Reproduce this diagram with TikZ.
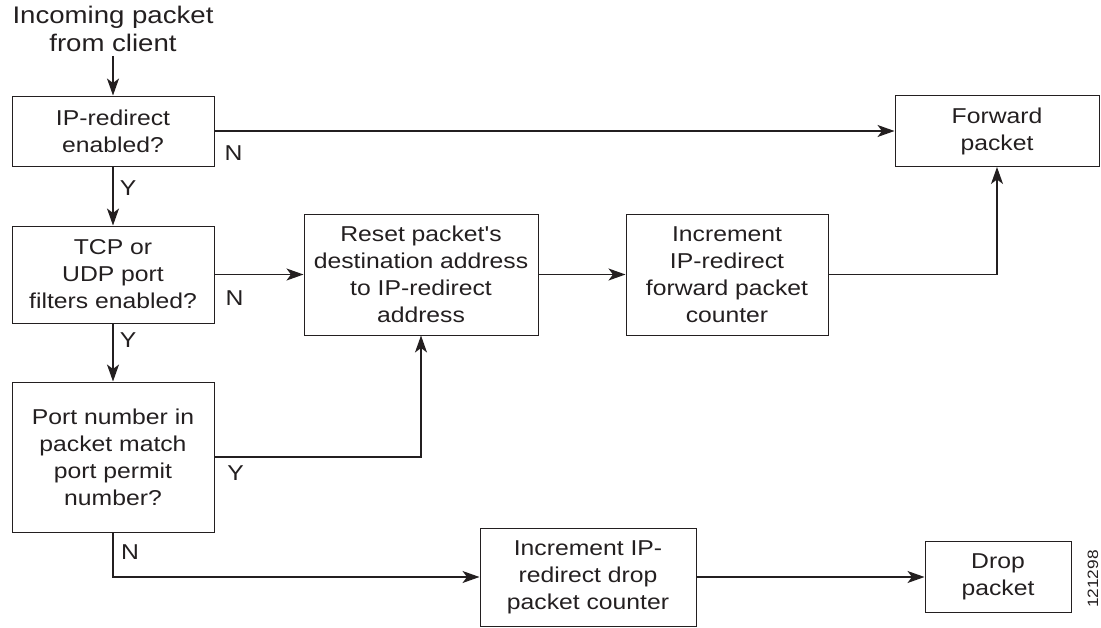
\documentclass[tikz,border=0pt]{standalone}
\usepackage{fontspec}
\setmainfont{Liberation Sans}[FakeStretch=1.15,Ligatures=TeXOff]
\usetikzlibrary{arrows.meta}
\definecolor{ink}{HTML}{231F20}

\begin{document}
\begin{tikzpicture}[x=1pt,y=-1pt,->,>={Stealth[length=17pt,width=12pt,inset=4.5pt]},
                line width=1.3pt,color=ink,
                every node/.style={font=\fontsize{21.5}{27}\selectfont,align=center},
                block/.style={draw,line width=1pt,minimum width=202pt,inner sep=0pt},
                lbl/.style={inner sep=0pt}]
                \useasboundingbox (0,0) rectangle (1101,627);

                % Define the blocks
                \node[font=\fontsize{24}{28}\selectfont] (in) at (113,29) {Incoming packet\\from client};
                \node[block,minimum height=70pt] (ipr) at (113,131) {IP-redirect\\enabled?};
                \node[block,minimum height=97pt] (tcp) at (113,274.5) {TCP or\\UDP port\\filters enabled?};
                \node[block,minimum height=150pt] (port) at (113,457) {Port number in\\packet match\\port permit\\number?};
                \node[block,minimum width=234pt,minimum height=121pt] (reset) at (421,274.5) {Reset packet's\\destination address\\to IP-redirect\\address};
                \node[block,minimum height=121pt] (incf) at (727,274.5) {Increment\\IP-redirect\\forward packet\\counter};
                \node[block,minimum width=204pt,minimum height=71pt] (fwd) at (997,131) {Forward\\packet};
                \node[block,minimum width=216pt,minimum height=98pt] (incd) at (588,577) {Increment IP-\\redirect drop\\packet counter};
                \node[block,minimum width=146pt,minimum height=71pt] (drop) at (998,577) {Drop\\packet};
                \node[rotate=90,font=\fontsize{15}{17}\selectfont] (fig) at (1093,579) {121298};

                % Connect the blocks
                \draw (in) -- (ipr);

                \path (ipr) edge node[lbl,pos=0,xshift=19pt,yshift=-22pt] {N} (fwd);
                \path (ipr) edge node[lbl,pos=0,xshift=15pt,yshift=-22pt] {Y} (tcp);

                \path (tcp) edge node[lbl,pos=0,xshift=20pt,yshift=-24pt] {N} (reset);
                \path (tcp) edge node[lbl,pos=0,xshift=15pt,yshift=-17pt] {Y} (port);

                \draw (port.east) -| node[lbl,pos=0,xshift=21pt,yshift=-16pt] {Y} (reset);
                \draw (port) |- node[lbl,pos=0,xshift=17pt,yshift=-20pt] {N} (incd);

                \path (reset) edge (incf);
                \draw (incf) -| (fwd);

                \path (incd) edge (drop);

            \end{tikzpicture}
\end{document}
